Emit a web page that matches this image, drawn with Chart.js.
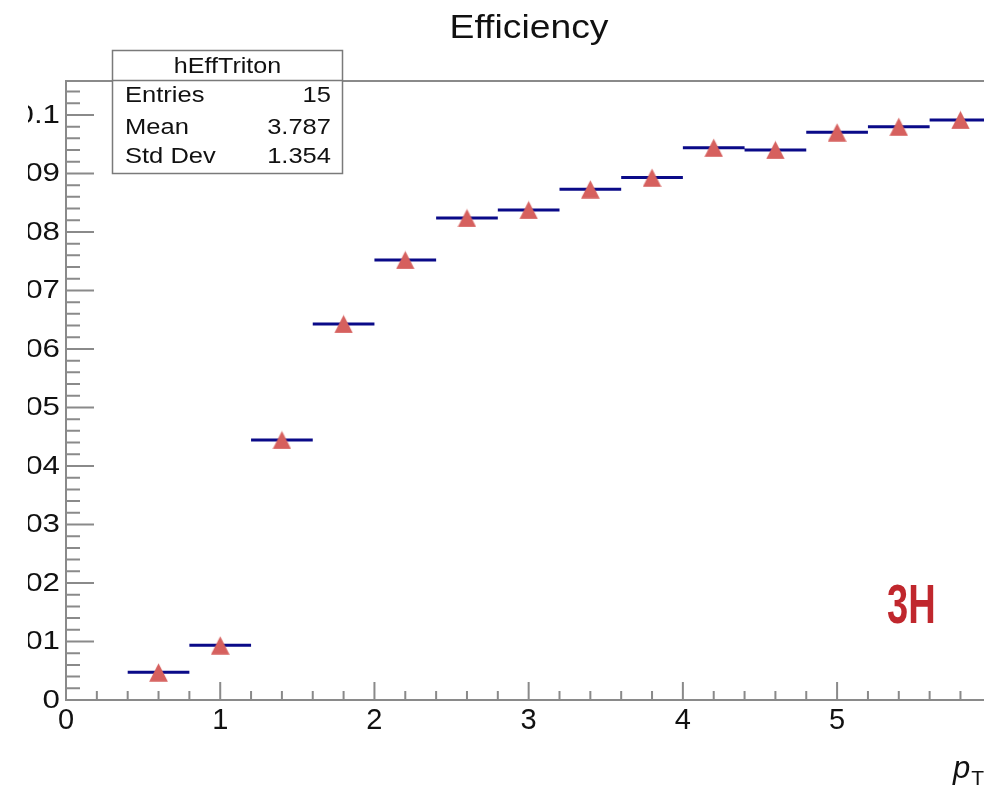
<!DOCTYPE html>
<html>
<head>
<meta charset="utf-8">
<script src="https://cdn.jsdelivr.net/npm/chart.js@4.4.1/dist/chart.umd.min.js"></script>
<style>
html,body{margin:0;padding:0;background:#fff;overflow:hidden;width:984px;height:785px;}
#wrap{position:absolute;left:28px;top:0;width:1045px;height:785px;}
#label3h{position:absolute;left:887px;top:576px;font-family:"Liberation Sans",Arial,sans-serif;font-weight:bold;font-size:56px;line-height:1;color:#c0272d;transform:scaleX(0.68);transform-origin:left top;white-space:nowrap;}
</style>
</head>
<body>
<div id="wrap"><canvas id="c" width="1045" height="785"></canvas></div>
<div id="label3h">3H</div>
<script>
// ---- data ----
const chartTitle = 'Efficiency';
const histName = 'hEffTriton';
const statsLabels = ['Entries', 'Mean', 'Std Dev'];
const statsValues = ['15', '3.787', '1.354'];
const binCenters = [0.6, 1.0, 1.4, 1.8, 2.2, 2.6, 3.0, 3.4, 3.8, 4.2, 4.6, 5.0, 5.4, 5.8];
const efficiency = [0.00474, 0.00935, 0.04444, 0.06427, 0.07521, 0.08239, 0.08376, 0.08730, 0.08929, 0.09441, 0.09402, 0.09704, 0.09800, 0.09915];
const binWidth = 0.4;
const xRange = [0, 6.4];
const yRange = [0, 0.1058];
const xMajorStep = 1, xMinorStep = 0.2;
const yMajorStep = 0.01, yMinorStep = 0.002;

// ---- derived structures ----
const markerPoints = binCenters.map((c, i) => ({x: c, y: efficiency[i]}));
const errSegments = [];
binCenters.forEach((c, i) => {
  errSegments.push({x: c - binWidth / 2, y: efficiency[i]});
  errSegments.push({x: c + binWidth / 2, y: efficiency[i]});
  errSegments.push({x: c, y: null});
});
const yLabelText = v => String(parseFloat(Number(v).toFixed(3)));

// triangle marker (ROOT style 22)
const tri = document.createElement('canvas');
tri.width = 19; tri.height = 19;
(function () {
  const t = tri.getContext('2d');
  t.fillStyle = '#d6605e';
  t.beginPath();
  t.moveTo(9.5, 0.5); t.lineTo(18.8, 18.8); t.lineTo(0.2, 18.8); t.closePath();
  t.fill();
})();

const AXIS_COLOR = '#8a8a8a';
const FONT = '"Liberation Sans", Arial, sans-serif';

const snapTicks = step => scale => {
  scale.ticks = scale.ticks.filter(t => Math.abs(t.value / step - Math.round(t.value / step)) < 1e-6);
};

function scaledText(ctx, text, x, y, sx, align) {
  ctx.save();
  ctx.translate(x, y);
  ctx.scale(sx, 1);
  ctx.textAlign = align;
  ctx.fillText(text, 0, 0);
  ctx.restore();
}

const frameAndTicks = {
  id: 'frameAndTicks',
  beforeDatasetsDraw(chart) {
    const {ctx, chartArea: a, scales: {x, y}} = chart;
    ctx.save();
    ctx.strokeStyle = AXIS_COLOR;
    ctx.lineWidth = 2;
    ctx.beginPath();
    ctx.moveTo(a.left, a.top); ctx.lineTo(a.right, a.top);
    const nY = Math.floor(y.max / yMinorStep + 1e-6);
    for (let k = 0; k <= nY; k++) {
      const py = y.getPixelForValue(k * yMinorStep);
      const len = (k % Math.round(yMajorStep / yMinorStep) === 0) ? 28 : 14;
      ctx.moveTo(a.left, py); ctx.lineTo(a.left + len, py);
    }
    const nX = Math.floor(x.max / xMinorStep + 1e-6);
    for (let k = 0; k <= nX; k++) {
      const px = x.getPixelForValue(k * xMinorStep);
      const len = (k % Math.round(xMajorStep / xMinorStep) === 0) ? 18 : 9;
      ctx.moveTo(px, a.bottom); ctx.lineTo(px, a.bottom - len);
    }
    ctx.stroke();
    // y tick labels from the library's ticks
    ctx.fillStyle = '#111';
    ctx.font = '25px ' + FONT;
    ctx.textBaseline = 'middle';
    y.ticks.forEach(t => {
      scaledText(ctx, yLabelText(t.value), a.left - 6, y.getPixelForValue(t.value) + 1, 1.25, 'right');
    });
    ctx.restore();
  }
};

const overlays = {
  id: 'overlays',
  afterDraw(chart) {
    const {ctx} = chart;
    ctx.save();
    ctx.fillStyle = '#111';
    ctx.textBaseline = 'alphabetic';
    // title
    ctx.font = '33px ' + FONT;
    scaledText(ctx, chartTitle, 501, 38, 1.13, 'center');
    // stats box
    const bx = 84.5, by = 50.5, bw = 230, bh = 123;
    ctx.fillStyle = '#fff';
    ctx.fillRect(bx, by, bw, bh);
    ctx.strokeStyle = '#7a7a7a';
    ctx.lineWidth = 1.5;
    ctx.strokeRect(bx, by, bw, bh);
    ctx.beginPath(); ctx.moveTo(bx, by + 30); ctx.lineTo(bx + bw, by + 30); ctx.stroke();
    ctx.fillStyle = '#111';
    ctx.font = '22px ' + FONT;
    scaledText(ctx, histName, bx + bw / 2, 73, 1.14, 'center');
    const baselines = [102, 134, 163];
    statsLabels.forEach((lab, i) => {
      scaledText(ctx, lab, 97, baselines[i], 1.16, 'left');
      scaledText(ctx, statsValues[i], 303, baselines[i], 1.16, 'right');
    });
    // x-axis title p_T
    ctx.font = 'italic 31px ' + FONT;
    ctx.textAlign = 'left';
    ctx.fillText('p', 925, 778);
    const pw = ctx.measureText('p').width;
    ctx.font = '21px ' + FONT;
    ctx.fillText('T', 925 + pw + 1, 785);
    const tw = ctx.measureText('T').width;
    ctx.font = '31px ' + FONT;
    ctx.fillText(' (GeV/c)', 925 + pw + tw + 2, 778);
    ctx.restore();
  }
};

new Chart(document.getElementById('c'), {
  type: 'scatter',
  data: {
    datasets: [
      {
        type: 'line',
        data: errSegments,
        borderColor: '#0a0a88',
        borderWidth: 3,
        pointRadius: 0,
        spanGaps: false,
        fill: false,
        tension: 0,
        order: 2
      },
      {
        type: 'scatter',
        data: markerPoints,
        pointStyle: tri,
        pointRadius: 10,
        order: 1
      }
    ]
  },
  options: {
    responsive: false,
    animation: false,
    devicePixelRatio: 1,
    layout: {padding: {top: 81, right: 20, left: 0, bottom: 0}},
    plugins: {legend: {display: false}, tooltip: {enabled: false}, title: {display: false}},
    scales: {
      x: {
        type: 'linear',
        min: xRange[0], max: xRange[1],
        grid: {display: false, drawTicks: false},
        border: {display: true, color: AXIS_COLOR, width: 2},
        ticks: {stepSize: xMajorStep, color: '#111', padding: 4,
          font: {family: FONT, size: 29},
          callback: v => String(v)},
        afterBuildTicks: snapTicks(xMajorStep),
        afterFit: s => { s.height = 85; }
      },
      y: {
        type: 'linear',
        min: yRange[0], max: yRange[1],
        grid: {display: false, drawTicks: false},
        border: {display: true, color: AXIS_COLOR, width: 2},
        ticks: {stepSize: yMajorStep, display: false},
        afterBuildTicks: snapTicks(yMajorStep),
        afterFit: s => { s.width = 38; }
      }
    }
  },
  plugins: [frameAndTicks, overlays]
});
</script>
</body>
</html>
